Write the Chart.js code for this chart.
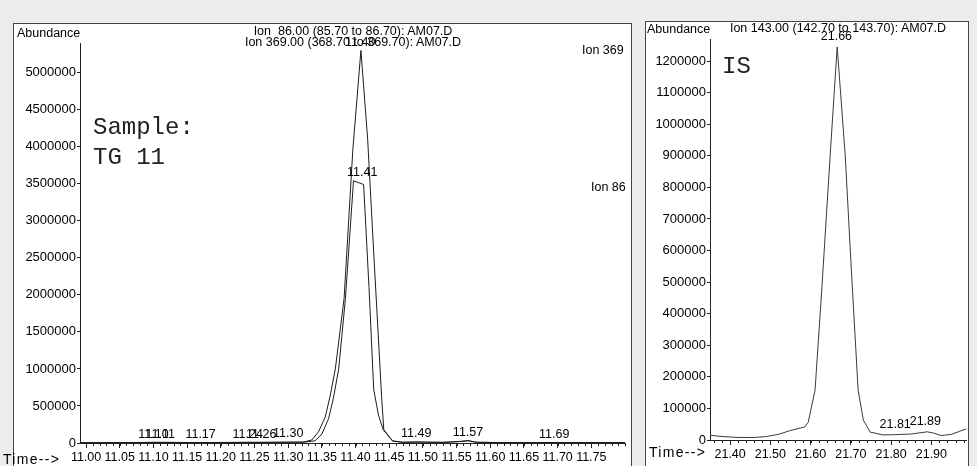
<!DOCTYPE html>
<html>
<head>
<meta charset="utf-8">
<script src="https://cdn.jsdelivr.net/npm/chart.js@4.4.1/dist/chart.umd.min.js"></script>
<style>
  html, body { margin: 0; padding: 0; }
  body {
    width: 977px; height: 466px; position: relative; overflow: hidden;
    background: #ececec; color: #000;
    font-family: "Liberation Sans", Arial, sans-serif;
  }
  .frame { position: absolute; background: #fff; border: 1px solid #444; box-sizing: border-box; }
  canvas { position: absolute; }
  .txt { position: absolute; font-size: 12.5px; line-height: 12px; white-space: pre; }
  .hdr { text-align: center; width: 400px; }
  .time { font-size: 14px; line-height: 14px; letter-spacing: 1.3px; }
  .mono {
    position: absolute; white-space: pre; color: #222;
    font-family: "Liberation Mono", "Courier New", monospace;
    font-size: 24px; line-height: 30px;
  }
</style>
</head>
<body>

<div class="frame" style="left:13px; top:23px; width:619px; height:445px;"></div>
<div class="frame" style="left:645px; top:21px; width:324px; height:447px;"></div>

<canvas id="chartLeft" width="619" height="443" style="left:13px; top:23px;"></canvas>
<canvas id="chartRight" width="323" height="445" style="left:645px; top:21px;"></canvas>

<!-- static annotations, left panel -->
<div class="txt" style="left:17px; top:27px;">Abundance</div>
<div class="txt hdr" style="left:153px; top:25px;">Ion  86.00 (85.70 to 86.70): AM07.D</div>
<div class="txt hdr" style="left:153px; top:36px;">Ion 369.00 (368.70 to 369.70): AM07.D</div>
<div class="txt" style="left:582px; top:44px;">Ion 369</div>
<div class="txt" style="left:591px; top:181px;">Ion 86</div>
<div class="mono" style="left:93px; top:113px;">Sample:
TG 11</div>
<div class="txt time" style="left:3px; top:452px;">Time--&gt;</div>

<!-- static annotations, right panel -->
<div class="txt" style="left:647px; top:23px;">Abundance</div>
<div class="txt hdr" style="left:638px; top:22px;">Ion 143.00 (142.70 to 143.70): AM07.D</div>
<div class="mono" style="left:722px; top:52px;">IS</div>
<div class="txt time" style="left:649px; top:445px;">Time--&gt;</div>

<script>
// Dva chromatogramy (EIC) vedle sebe: vzorek TG 11 a interní standard.
// Hodnoty, všechno kreslí Chart.js přes své osy.

// ====== DATA: levý panel (vzorek) ======

const ion369Time = [10.991, 11.05, 11.10, 11.11, 11.17, 11.24, 11.26, 11.30, 11.322, 11.335, 11.345, 11.355, 11.362, 11.370, 11.383, 11.396, 11.408, 11.418, 11.428, 11.439, 11.442, 11.455, 11.47, 11.49, 11.53, 11.556, 11.567, 11.58, 11.62, 11.695, 11.80];
const ion369Abund = [4000, 5000, 9000, 9000, 6000, 9000, 9000, 11000, 12000, 40000, 150000, 350000, 620000, 1000000, 1950000, 3960000, 5300000, 4100000, 2400000, 580000, 180000, 25000, 10000, 14000, 9000, 22000, 32000, 10000, 6000, 7000, 5000];

const ion86Time = [10.991, 11.05, 11.10, 11.11, 11.17, 11.24, 11.26, 11.30, 11.325, 11.340, 11.350, 11.360, 11.367, 11.375, 11.385, 11.397, 11.412, 11.420, 11.427, 11.434, 11.441, 11.455, 11.47, 11.49, 11.53, 11.556, 11.567, 11.58, 11.62, 11.695, 11.80];
const ion86Abund = [3000, 4000, 8000, 8000, 5000, 8000, 8000, 10000, 12000, 30000, 120000, 330000, 600000, 1000000, 1950000, 3540000, 3490000, 2100000, 720000, 380000, 180000, 30000, 9000, 12000, 8000, 20000, 30000, 9000, 5000, 6000, 4000];

// popisky píků (retenční časy)
const peakTextLeft = ['11.10', '11.11', '11.17', '11.24', '11.26', '11.30', '11.40', '11.41', '11.49', '11.57', '11.69'];
const peakTimeLeft = [11.10, 11.11, 11.17, 11.24, 11.26, 11.30, 11.407, 11.410, 11.49, 11.567, 11.695];
const peakAbundLeft = [9000, 9000, 6000, 9000, 9000, 11000, 5300000, 3540000, 14000, 32000, 7000];

const xTicksLeft = [11.00, 11.05, 11.10, 11.15, 11.20, 11.25, 11.30, 11.35, 11.40, 11.45, 11.50, 11.55, 11.60, 11.65, 11.70, 11.75];
const yTicksLeft = [0, 500000, 1000000, 1500000, 2000000, 2500000, 3000000, 3500000, 4000000, 4500000, 5000000];

// ====== DATA: pravý panel (IS) ======

const ion143Time = [21.350, 21.38, 21.42, 21.46, 21.49, 21.52, 21.55, 21.575, 21.586, 21.594, 21.611, 21.626, 21.649, 21.666, 21.686, 21.702, 21.718, 21.731, 21.748, 21.78, 21.81, 21.85, 21.89, 21.905, 21.925, 21.95, 21.986];
const ion143Abund = [15000, 11000, 8000, 8000, 11000, 18000, 30000, 38000, 42000, 56000, 158000, 443000, 911000, 1245000, 900000, 520000, 158000, 63000, 25000, 16000, 17000, 19000, 26000, 22000, 14000, 18000, 35000];

const peakTextRight = ['21.66', '21.81', '21.89'];
const peakTimeRight = [21.664, 21.81, 21.885];
const peakAbundRight = [1245000, 17000, 26000];

const xTicksRight = [21.40, 21.50, 21.60, 21.70, 21.80, 21.90];
const yTicksRight = [0, 100000, 200000, 300000, 400000, 500000, 600000, 700000, 800000, 900000, 1000000, 1100000, 1200000];

// ====== PLUGINY ======

// popisky retenčních časů nad píky
const peakLabels = {
  id: 'peakLabels',
  afterDatasetsDraw(chart, args, opts) {
    const { ctx, scales: { x, y } } = chart;
    ctx.save();
    ctx.font = '12.5px "Liberation Sans", Arial, sans-serif';
    ctx.fillStyle = '#000';
    ctx.textAlign = 'center';
    ctx.textBaseline = 'bottom';
    opts.times.forEach((t, i) => {
      ctx.fillText(opts.texts[i], x.getPixelForValue(t), y.getPixelForValue(opts.values[i]) - opts.gap);
    });
    ctx.restore();
  }
};

// drobné značky na časové ose
const minorTicks = {
  id: 'minorTicks',
  afterDraw(chart, args, opts) {
    const { ctx, scales: { x }, chartArea } = chart;
    ctx.save();
    ctx.strokeStyle = '#222';
    ctx.lineWidth = 1;
    ctx.beginPath();
    for (let i = 0; ; i++) {
      const v = opts.start + i * opts.step;
      if (v > x.max) break;
      if (v < x.min) continue;
      const px = Math.round(x.getPixelForValue(v)) + 0.5;
      ctx.moveTo(px, chartArea.bottom);
      ctx.lineTo(px, chartArea.bottom + opts.len);
    }
    ctx.stroke();
    ctx.restore();
  }
};

// ====== UTIL ======

const toPoints = (xs, ys) => xs.map((t, i) => ({ x: t, y: ys[i] }));

function makeChart(id, cfg) {
  // eslint-disable-next-line no-undef
  return new Chart(document.getElementById(id), {
    type: 'line',
    data: { datasets: cfg.datasets },
    plugins: [peakLabels, minorTicks],
    options: {
      responsive: false,
      animation: false,
      devicePixelRatio: 1,
      layout: { padding: cfg.padding },
      elements: { point: { radius: 0 }, line: { tension: 0 } },
      plugins: {
        legend: { display: false },
        tooltip: { enabled: false },
        peakLabels: cfg.labels,
        minorTicks: cfg.minor
      },
      scales: {
        x: {
          type: 'linear',
          min: cfg.xMin, max: cfg.xMax,
          afterBuildTicks: (s) => { s.ticks = cfg.xTicks.map(v => ({ value: v })); },
          afterFit: (s) => { s.height = cfg.xHeight; },
          grid: { drawOnChartArea: false, drawTicks: true, tickLength: 5, color: '#222' },
          border: { display: true, color: '#222', width: 1 },
          ticks: {
            autoSkip: false, maxRotation: 0, minRotation: 0, padding: 2,
            color: '#000', font: { family: '"Liberation Sans", Arial, sans-serif', size: 12.5 },
            callback: (v) => Number(v).toFixed(2)
          }
        },
        y: {
          min: 0, max: cfg.yMax,
          afterBuildTicks: (s) => { s.ticks = cfg.yTicks.map(v => ({ value: v })); },
          afterFit: (s) => { s.width = cfg.yWidth; },
          grid: { drawOnChartArea: false, drawTicks: true, tickLength: 3, color: '#222' },
          border: { display: true, color: '#222', width: 1 },
          ticks: {
            padding: 1, color: '#000',
            font: { family: '"Liberation Sans", Arial, sans-serif', size: 13 },
            callback: (v) => String(v)
          }
        }
      }
    }
  });
}

// ====== INIT ======

makeChart('chartLeft', {
  datasets: [
    { label: 'Ion 369', data: toPoints(ion369Time, ion369Abund), borderColor: '#1c1c1c', borderWidth: 1 },
    { label: 'Ion 86', data: toPoints(ion86Time, ion86Abund), borderColor: '#1c1c1c', borderWidth: 1 }
  ],
  padding: { top: 20, right: 7, left: 0, bottom: 0 },
  xMin: 10.991, xMax: 11.80, xTicks: xTicksLeft, xHeight: 23,
  yMax: 5400000, yTicks: yTicksLeft, yWidth: 67,
  labels: { times: peakTimeLeft, texts: peakTextLeft, values: peakAbundLeft, gap: 2 },
  minor: { start: 11.00, step: 0.01, len: 3 }
});

makeChart('chartRight', {
  datasets: [
    { label: 'Ion 143', data: toPoints(ion143Time, ion143Abund), borderColor: '#3a3a3a', borderWidth: 1 }
  ],
  padding: { top: 18, right: 2, left: 0, bottom: 0 },
  xMin: 21.350, xMax: 21.986, xTicks: xTicksRight, xHeight: 26,
  yMax: 1270000, yTicks: yTicksRight, yWidth: 65,
  labels: { times: peakTimeRight, texts: peakTextRight, values: peakAbundRight, gap: 4 },
  minor: { start: 21.36, step: 0.02, len: 3 }
});
</script>
</body>
</html>
